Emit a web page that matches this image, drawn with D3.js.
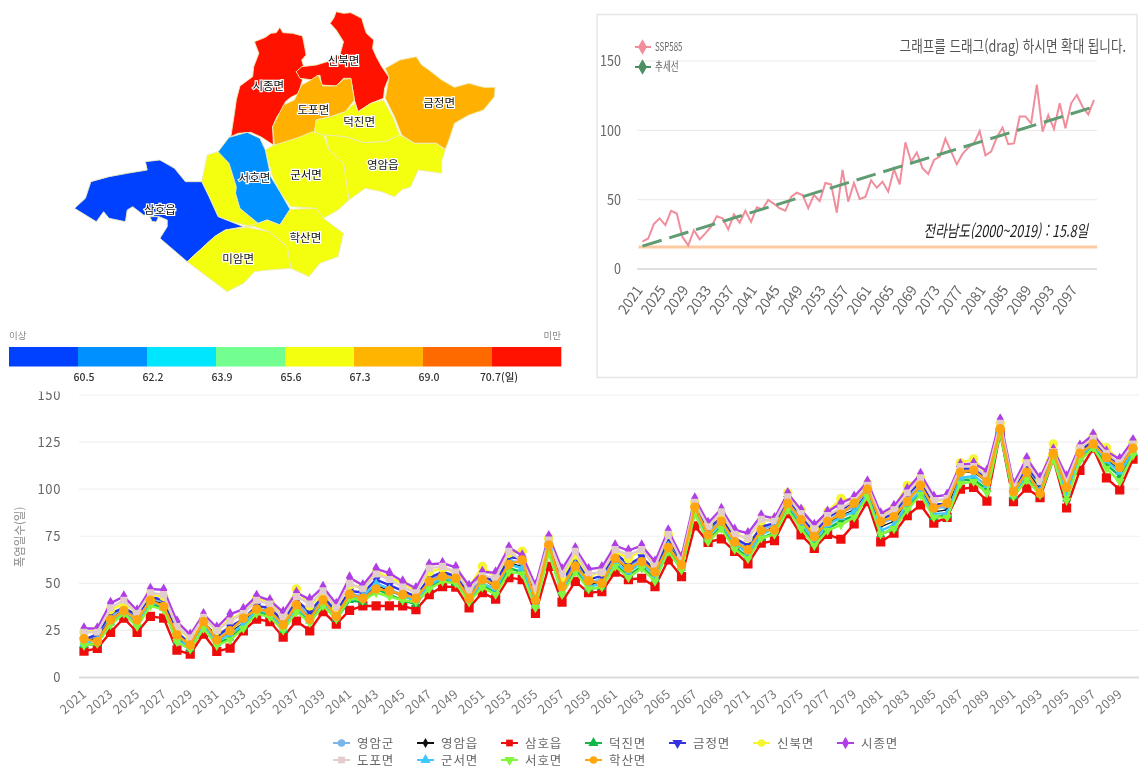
<!DOCTYPE html>
<html lang="ko"><head><meta charset="utf-8">
<style>html,body{margin:0;padding:0;background:#fff;overflow:hidden}svg{display:block;font-family:"Noto Sans CJK KR","Noto Sans",sans-serif;filter:blur(.35px)}</style>
<script src="https://cdn.jsdelivr.net/npm/d3@7/dist/d3.min.js"></script></head><body>
<svg id="c" width="1139" height="768"></svg>
<script>
const years = d3.range(2021, 2101);
const ssp585 = [19.7,22,32.5,36.5,31.7,42,40,23,17,28,21.4,25.7,30.5,38,36.5,28.6,39.4,33.4,42,34,44.5,43,49.8,47,43.8,42,52,55,53.4,43.8,53.4,49,62,61,40.6,71.4,48.6,62,50.5,52,64,58.6,63,55.8,72,61,91.3,77.4,84,72.6,68.5,78.6,81,94,84.6,75.5,83,87.5,90.6,99.5,82,84.6,95,102,90,90.6,110,110,105,133,99,111,101,119.5,101.5,119.5,125.5,117,111.5,122];
const trendYears = [2021, 2100];
const trendValues = [16.5, 117];
const baseline = 15.8;
const yeongamEup = [19,21,31,36,30,41,39,21,16,27,20,24,29,37,35,27,38,32,41,33,43,42,49,46,43,41,51,54,52,43,52,48,61,59,40,70,47,61,49,51,63,57,62,55,71,60,90,76,83,72,67,77,80,93,83,74,82,86,89,98,80,83,94,101,88,89,109,109,104,132,98,110,100,119,100,118,125,116,110,121];
const samho = [14,15.5,24,31.5,24,32.4,31.5,14.5,12.4,23,13.8,15.6,24.8,31,29.7,21.4,30,24.8,35,28.3,35.7,38,38,38,38,36,44,48.3,48,37,45,41.6,53,52,34,59,40,51,45,45.6,56,52,52.7,48.3,62.4,53.6,80.5,71.8,73.6,67,60.3,71.3,72.7,87,75.7,68.6,76,73.4,81.5,93.4,72,76.6,86,91.6,82,85,100,101,93.7,130,93.4,100.5,95.5,116,90,110,121.7,106,99.6,116];
const deokjin = [17,18,29,34,28,39,37,19,15,26,18,21,27,35,33,25,36,30,39,31,41,40,47,44,41,39,48,52,50,41,49,45,58,56,38,68,45,58,47,48,60,54,59,52,68,58,88,73,80,69,64,74,77,91,80,71,79,83,86,96,76,79,90,98,85,86,105,105,100,130,96,106,97,117,95,116,123,113,107,119];
const geumjeong = [20,23,34,37,33,43,41,24,18,29,22,27,31,38,37,30,41,35,43,35,46,45,52,49,46,43,53,56,54,45,55,50,64,63,42,72,50,64,52,54,66,60,64,57,74,62,92,79,85,74,70,80,82,95,86,77,85,89,93,101,84,87,97,104,92,92,111,111,106,134,100,112,103,120,103,120,126,118,113,123];
const sinbuk = [24,25,36,39,35,44,43,27,20,31,25,31,34,42,40,33,47,38,45,37,49,48,56,53,50,46,56,58,56,48,59,53,66,67,46,74,53,65,54,56,67,63,68,60,76,64,93,81,87,76,74,83,84,98,89,79,88,95,94,103,86,90,102,106,94,94,114,116,108,135,102,115,105,124,104,122,128,122,115,125];
const sijong = [26,26,39.5,43,35.5,47,46.5,29.7,22.6,33.6,26.5,33.6,36.3,43.3,41,34.7,45,41.5,48,39,53,49,57.7,55.4,51,47.4,60,60.7,58.5,48.6,56,55.7,69,64.7,49,75,57.5,68.6,57.5,58.5,70,67.4,70,61.5,78,64,95,82,89.5,78.4,76.6,86,84.5,97.8,89,81,88,92.5,96,104,87,91,100,108,96,97,113,113.7,109.7,137,102.8,116.4,106,121,106.7,123,129,120,116,126];
const dopo = [24,24,37,41,34,45,44,27,21,32,25,30,34,41,39,32,43,39,46,37,50,47,55,52,48,45,58,59,56,46,54,53,67,62,47,73,55,67,55,56,68,65,68,59,76,62,93,80,88,76,74,84,83,96,87,79,86,90,94,102,85,89,98,106,94,95,112,112,107,135,101,114,104,120,104,122,127,119,114,124];
const gunseo = [18,20,30,35,29,40,38,20,16,27,19,23,28,36,34,26,37,31,40,32,42,43,50,47,43,41,49,53,51,42,50,47,60,58,39,69,46,60,48,50,61,56,61,54,70,59,89,75,82,71,66,76,79,92,82,73,81,85,88,97,78,81,92,99,87,87,106,107,102,131,97,108,99,118,98,117,124,115,109,120];
const seoho = [17,18,28,34,27,38,36,19,15,26,17,20,26,34,32,25,35,29,38,31,42,41,45,43,41,40,47,51,50,40,48,44,56,55,37,66,44,56,47,48,59,53,58,51,67,57,87,72,79,68,63,74,76,89,79,70,78,81,85,96,76,79,89,97,85,85,103,104,98,130,96,105,97,116,94,115,122,111,104,118];
const haksan = [20.5,19,30.6,35.5,30.6,41,37.7,22.6,17.3,29.7,20,24.8,31.5,36.3,35,28,38.6,31,41.2,32.4,44.2,42,47,46,44,42,51,53.6,52.7,42,52,49,60,62.4,41,70.4,48.3,59,51.3,50,63.3,58,61.5,56,69,59.8,90.4,75.7,83,72,67.8,78,78.4,92.5,83.7,74.8,82.8,86.7,92.5,100,82.8,85.4,93.4,102,90,92.5,109,110,104,132,98.7,109,97.8,119,101,119,124,116.8,111.6,121.7];

const seriesNames = ["영암군","영암읍","삼호읍","덕진면","금정면","신북면","시종면","도포면","군서면","서호면","학산면"];
const seriesData = [ssp585,yeongamEup,samho,deokjin,geumjeong,sinbuk,sijong,dopo,gunseo,seoho,haksan];
const seriesColors = ["#7cb5ec","#111111","#ee0c0c","#10b848","#3232e0","#f6f630","#b03ee6","#e2cccc","#3fc8ff","#84f63c","#ffa510"];
const seriesSymbols = [d3.symbolCircle,d3.symbolDiamond,d3.symbolSquare,d3.symbolTriangle,"down",d3.symbolCircle,d3.symbolDiamond,d3.symbolSquare,d3.symbolTriangle,"down",d3.symbolCircle];
const seriesMarkerSizes = [50,14,85,35,35,70,46,50,35,38,72];
const yTicksBottom = [0,25,50,75,100,125,150];
const yTicksTop = [0,50,100,150];
const legendBins = ["#0040ff","#0090ff","#00e6ff","#72ff90","#f4ff10","#ffb400","#ff6a00","#ff1200"];
const legendLabels = ["60.5","62.2","63.9","65.6","67.3","69.0","70.7(일)"];

// traced district outlines, in tracing units
const regions = [
 {name:"시종면",color:"#ff1200",label:[738,258],ring:[[770,82],[778,98],[805,100],[832,108],[838,140],[842,165],[830,180],[835,198],[815,215],[832,240],[826,262],[822,280],[800,292],[785,305],[778,325],[762,350],[750,380],[752,435],[720,412],[690,397],[655,400],[635,410],[645,340],[650,300],[660,258],[695,230],[698,200],[712,160],[700,125],[730,112],[745,100],[760,98]]},
 {name:"신북면",color:"#ff1200",label:[945,184],ring:[[925,35],[945,40],[965,38],[995,55],[1003,85],[1008,100],[1028,120],[1025,145],[1035,170],[1050,200],[1070,232],[1058,265],[1055,295],[1020,310],[985,335],[975,300],[965,235],[945,235],[925,258],[885,255],[880,225],[860,240],[825,235],[815,215],[830,200],[870,195],[900,185],[935,165],[945,125],[925,90],[908,70],[918,55]]},
 {name:"도포면",color:"#ffb000",label:[862,330],ring:[[875,225],[888,258],[925,258],[945,238],[965,235],[975,300],[950,335],[910,350],[870,360],[865,400],[815,415],[755,437],[750,380],[780,315],[810,300],[830,255],[855,240]]},
 {name:"덕진면",color:"#f4ff10",label:[988,367],ring:[[950,335],[975,310],[985,335],[1020,310],[1055,300],[1080,350],[1100,405],[1060,425],[1000,428],[950,410],[880,405],[865,395],[870,360],[910,350]]},
 {name:"금정면",color:"#ffb000",label:[1208,310],ring:[[1060,205],[1100,180],[1145,170],[1160,195],[1180,210],[1215,240],[1250,262],[1290,250],[1330,262],[1362,262],[1360,290],[1330,330],[1290,345],[1250,370],[1235,420],[1225,448],[1200,430],[1140,430],[1105,405],[1085,350],[1060,295],[1070,232]]},
 {name:"영암읍",color:"#f4ff10",label:[1053,494],ring:[[895,405],[950,410],[1000,428],[1060,425],[1100,405],[1140,430],[1200,430],[1225,450],[1215,485],[1215,520],[1185,515],[1150,510],[1130,560],[1105,570],[1085,590],[1050,575],[1005,565],[960,600],[945,490],[905,450]]},
 {name:"군서면",color:"#f4ff10",label:[842,525],ring:[[750,437],[815,415],[860,395],[890,405],[905,450],[945,490],[960,600],[930,630],[890,655],[870,625],[800,620],[770,575],[750,530],[730,450]]},
 {name:"",color:"#f4ff10",label:null,ring:[[600,455],[630,490],[650,560],[648,580],[660,625],[710,670],[690,680],[640,665],[600,650],[575,590],[555,545],[570,465]]},
 {name:"서호면",color:"#0090ff",label:[700,535],ring:[[630,412],[680,397],[715,415],[730,450],[745,530],[770,575],[798,628],[770,675],[735,660],[710,670],[660,625],[648,580],[650,560],[630,490],[600,455]]},
 {name:"삼호읍",color:"#0040ff",label:[440,630],ring:[[400,485],[440,480],[480,505],[510,545],[555,545],[575,590],[600,650],[670,680],[620,690],[590,710],[515,785],[440,715],[460,680],[460,660],[438,650],[395,645],[365,620],[350,630],[345,665],[300,655],[285,635],[265,665],[205,625],[235,595],[250,545],[300,530],[350,520],[405,510]]},
 {name:"",color:"#0040ff",label:null,ring:[[412,650],[436,650],[430,666],[418,664]]},
 {name:"학산면",color:"#f4ff10",label:[840,715],ring:[[670,680],[710,670],[735,660],[770,675],[798,628],[870,625],[890,655],[945,700],[930,770],[880,790],[850,830],[800,805],[790,740],[740,695],[700,680]]},
 {name:"미암면",color:"#f4ff10",label:[655,777],ring:[[515,785],[590,710],[620,690],[680,682],[740,695],[790,740],[800,805],[740,810],[700,815],[670,850],[625,875]]}
];

const svg = d3.select("#c");
const kr = '"Noto Sans CJK KR","Noto Sans",sans-serif';

/* ---------- MAP ---------- */
const mx = d3.scaleLinear().domain([0,1568]).range([0,570]);
const my = d3.scaleLinear().domain([0,1170]).range([0,390]);
const ringLine = d3.line().x(d=>mx(d[0])).y(d=>my(d[1])).curve(d3.curveLinearClosed);
const map = svg.append("g");
map.selectAll("path").data(regions).join("path")
  .attr("d",ringLine.x(d=>mx(d[0])) && (d=>ringLine(d.ring))).attr("fill",d=>d.color).attr("stroke","#ecebb8").attr("stroke-width",.9).attr("stroke-linejoin","round");
map.selectAll("text").data(regions.filter(d=>d.label)).join("text")
  .attr("x",d=>mx(d.label[0])).attr("y",d=>my(d.label[1])).attr("dy",".36em")
  .attr("text-anchor","middle").attr("font-size",11.5).attr("fill","#111")
  .attr("stroke","#fff").attr("stroke-width",2.4).attr("paint-order","stroke")
  .text(d=>d.name);

/* colour legend */
const lx = d3.scaleBand().domain(d3.range(legendBins.length)).range([9,561]);
svg.append("g").selectAll("rect").data(legendBins).join("rect")
  .attr("x",(d,i)=>lx(i)).attr("width",lx.bandwidth()+.3).attr("y",347).attr("height",19.5).attr("fill",d=>d);
svg.append("g").selectAll("text").data(legendLabels).join("text")
  .attr("x",(d,i)=>lx(i+1)+ (i==6?7:6)).attr("y",377).attr("dy",".36em").attr("text-anchor","middle")
  .attr("font-size",10.5).attr("font-weight",500).attr("fill","#333").text(d=>d);
svg.append("text").attr("x",9).attr("y",336).attr("dy",".36em").attr("font-size",9.5).attr("fill","#888").text("이상");
svg.append("text").attr("x",561).attr("y",336).attr("dy",".36em").attr("text-anchor","end").attr("font-size",9.5).attr("fill","#888").text("미만");

/* ---------- TOP-RIGHT CHART ---------- */
svg.append("rect").attr("x",597).attr("y",14.5).attr("width",540).attr("height",363)
  .attr("fill","#fff").attr("stroke","#e6e6e6").attr("stroke-width",1.5);
const tx = d3.scalePoint().domain(years).range([642.5,1094]);
const ty = d3.scaleLinear().domain([0,150]).range([269,61]);
const tTop = svg.append("g");
tTop.selectAll("line.g").data(yTicksTop).join("line").attr("class","g")
  .attr("x1",637).attr("x2",1097).attr("y1",d=>ty(d)).attr("y2",d=>ty(d))
  .attr("stroke",d=>d===0?"#d4d4d4":"#ececec").attr("stroke-width",d=>d===0?1.6:1.2);
tTop.selectAll("text.y").data(yTicksTop).join("text").attr("class","y")
  .attr("text-anchor","end").attr("dy",".36em")
  .attr("transform",d=>`translate(621,${ty(d)}) scale(.9,1.05)`)
  .attr("font-size",14).attr("fill","#666").text(d=>d);
tTop.selectAll("text.x").data(years.filter((d,i)=>i%4===0)).join("text").attr("class","x")
  .attr("transform",d=>`translate(${tx(d)+1},${290}) rotate(-55)`).attr("text-anchor","end")
  .attr("font-size",14).attr("fill","#666").text(d=>d);
tTop.append("line").attr("x1",tx(years[0])-4).attr("x2",1097).attr("y1",ty(baseline)).attr("y2",ty(baseline))
  .attr("stroke","#fbcaa2").attr("stroke-width",3);
tTop.append("path").datum(ssp585)
  .attr("d",d3.line().x((d,i)=>tx(years[i])).y(d=>ty(d)))
  .attr("fill","none").attr("stroke","#f08e9c").attr("stroke-width",2);
tTop.append("path").datum(trendValues)
  .attr("d",d3.line().x((d,i)=>tx(trendYears[i])).y(d=>ty(d)))
  .attr("fill","none").attr("stroke","#5f9c72").attr("stroke-width",3).attr("stroke-dasharray","20 8");
tTop.append("text").attr("text-anchor","end").attr("dy",".36em").attr("transform","translate(1126,46) scale(.84,1.05)")
  .attr("font-size",15).attr("fill","#555").text("그래프를 드래그(drag) 하시면 확대 됩니다.");
tTop.append("text").attr("text-anchor","end").attr("dy",".36em").attr("transform","translate(1088,231) scale(.84,1.1)")
  .attr("font-size",15).attr("font-style","italic").attr("fill","#222").text("전라남도(2000~2019) : 15.8일");
[["SSP585","#f08e9c",47,.72],["추세선","#4d8f62",67,.78]].forEach(([t,c,y,k])=>{
  tTop.append("line").attr("x1",635).attr("x2",651).attr("y1",y).attr("y2",y).attr("stroke",c).attr("stroke-width",2);
  tTop.append("path").attr("d",d3.symbol().type(d3.symbolDiamond).size(70)).attr("transform",`translate(642.5,${y})`).attr("fill",c);
  tTop.append("text").attr("dy",".36em").attr("transform",`translate(655,${y}) scale(${k},1.1)`).attr("font-size",11).attr("fill","#666").text(t);
});

/* ---------- BOTTOM CHART ---------- */
svg.append("defs").append("clipPath").attr("id","botClip").append("rect").attr("x",0).attr("y",391.5).attr("width",1139).attr("height",380);
const bx = d3.scalePoint().domain(years).range([84,1133]);
const by = d3.scaleLinear().domain([0,150]).range([677.5,395]);
const bot = svg.append("g").attr("clip-path","url(#botClip)");
const axisY = bot.append("g").attr("transform","translate(79,0)")
  .call(d3.axisLeft(by).tickValues(yTicksBottom).tickSize(0).tickPadding(18));
axisY.select(".domain").remove();
axisY.selectAll("text").attr("font-size",13).attr("fill","#666").attr("font-family",kr).style("letter-spacing",".6px");
bot.selectAll("line.g").data(yTicksBottom).join("line").attr("class","g")
  .attr("x1",79).attr("x2",1139).attr("y1",d=>by(d)).attr("y2",d=>by(d))
  .attr("stroke",d=>d===0?"#dcdcdc":"#efefef").attr("stroke-width",d=>d===0?1.8:1.2);
const axisX = bot.append("g").attr("transform","translate(0,677.5)")
  .call(d3.axisBottom(bx).tickValues(years.filter((d,i)=>i%2===0)).tickSize(0).tickFormat(d3.format("d")));
axisX.select(".domain").remove();
axisX.selectAll("text").attr("font-size",12.5).attr("fill","#777").attr("font-family",kr).style("letter-spacing",".5px")
  .attr("text-anchor","end").attr("dy",0).attr("y",0).attr("transform","translate(3,18) rotate(-40)");
bot.append("text").attr("transform","translate(20,537) rotate(-90)").attr("text-anchor","middle").attr("dy",".36em")
  .attr("font-size",11.5).attr("fill","#888").text("폭염일수(일)");

const sym = (s,size)=> s==="down" ? d3.symbol().type(d3.symbolTriangle).size(size)() : d3.symbol().type(s).size(size)();
const rot = s => s==="down" ? " rotate(180)" : "";
const line = d3.line().x((d,i)=>bx(years[i])).y(d=>by(d));
seriesNames.forEach((n,k)=>{
  const g = bot.append("g");
  g.append("path").datum(seriesData[k]).attr("d",line).attr("fill","none").attr("stroke",seriesColors[k]).attr("stroke-width",k===1?1.2:2.4);
  g.selectAll("path.m").data(seriesData[k]).join("path").attr("class","m")
    .attr("d",sym(seriesSymbols[k],seriesMarkerSizes[k])).attr("fill",seriesColors[k])
    .attr("transform",(d,i)=>`translate(${bx(years[i])},${by(d)})${rot(seriesSymbols[k])}`);
});

/* series legend */
const colX = d3.scaleLinear().domain([0,6]).range([333,837]);
const rowY = d3.scalePoint().domain([0,1]).range([743,760]);
seriesNames.forEach((n,k)=>{
  const c = k%7, r = k<7?0:1, x = colX(c), y = rowY(r);
  const g = svg.append("g");
  g.append("line").attr("x1",x).attr("x2",x+17).attr("y1",y).attr("y2",y).attr("stroke",seriesColors[k]).attr("stroke-width",2);
  g.append("path").attr("d",sym(seriesSymbols[k],k===1?30:45)).attr("fill",seriesColors[k]).attr("transform",`translate(${x+8.5},${y})${rot(seriesSymbols[k])}`);
  g.append("text").attr("x",x+24).attr("y",y).attr("dy",".36em").attr("font-size",12.5).attr("fill","#666").style("letter-spacing",".9px").text(n);
});
</script></body></html>
